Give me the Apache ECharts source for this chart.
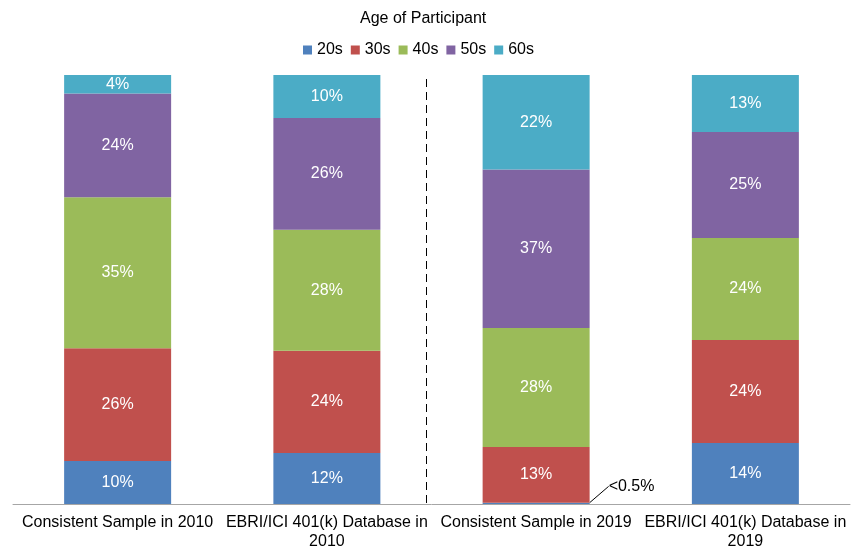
<!DOCTYPE html>
<html>
<head>
<meta charset="utf-8">
<script src="https://cdn.jsdelivr.net/npm/echarts@6/dist/echarts.min.js"></script>
<style>
  html, body { margin: 0; padding: 0; background: #fff; }
  #chart { width: 851px; height: 548px; }
</style>
</head>
<body>
<div id="chart"></div>
<script>
// Share of participants by age group (percent of each sample)
const categories = [
  'Consistent Sample in 2010',
  'EBRI/ICI 401(k) Database in\n2010',
  'Consistent Sample in 2019',
  'EBRI/ICI 401(k) Database in\n2019'
];
const ageGroups = ['20s', '30s', '40s', '50s', '60s'];
const age20s = [10.0, 11.9, 0.3, 14.2];
const age30s = [26.3, 23.8, 13.0, 24.0];
const age40s = [35.2, 28.2, 27.7, 23.8];
const age50s = [24.2, 26.1, 37.0, 24.7];
const age60s = [4.3, 10.0, 22.0, 13.3];
const colors = ['#4F81BD', '#C0504D', '#9BBB59', '#8064A2', '#4BACC6'];

const font = '"Liberation Sans", Arial, sans-serif';
const chart = echarts.init(document.getElementById('chart'));

function makeSeries(name, values, color) {
  return {
    name: name,
    type: 'bar',
    stack: 'age',
    barWidth: 107,
    itemStyle: { color: color },
    label: {
      show: true,
      position: 'inside',
      color: '#fff',
      fontFamily: font,
      fontSize: 16,
      formatter: p => Math.round(p.value) + '%'
    },
    data: values.map(v => {
      if (v < 0.5) {
        // very small share: label placed outside with a leader line
        return {
          value: v,
          label: {
            show: true,
            position: 'right',
            color: '#000',
            formatter: '<0.5%'
          },
          labelLine: { show: true, lineStyle: { color: '#000', width: 1 } }
        };
      }
      return v;
    }),
    labelLayout: function (p) {
      if (values[p.dataIndex] < 0.5) {
        return { dx: 14, dy: -17 };
      }
    },
    labelLine: { show: false }
  };
}

const seriesValues = [age20s, age30s, age40s, age50s, age60s];

chart.setOption({
  animation: false,
  title: {
    text: 'Age of Participant',
    left: 355,
    top: 6,
    textStyle: { fontFamily: font, fontSize: 16, fontWeight: 'normal', color: '#000' }
  },
  legend: {
    data: ageGroups,
    top: 37,
    left: 298,
    itemWidth: 9,
    itemHeight: 9,
    itemGap: 8,
    icon: 'rect',
    textStyle: { fontFamily: font, fontSize: 16, color: '#000' }
  },
  grid: { left: 13, right: 1, top: 75, bottom: 44, containLabel: false, outerBoundsMode: 'none' },
  xAxis: {
    type: 'category',
    data: categories,
    axisLine: { lineStyle: { color: '#A6A6A6', width: 1 } },
    axisTick: { show: false },
    axisLabel: {
      interval: 0,
      color: '#000',
      fontFamily: font,
      fontSize: 16,
      lineHeight: 19,
      margin: 9
    }
  },
  yAxis: {
    type: 'value',
    min: 0,
    max: 100,
    show: false,
    splitLine: { show: false }
  },
  series: ageGroups.map((g, i) => makeSeries(g, seriesValues[i], colors[i]))
});

// Dashed divider separating the 2010 and 2019 groups
function drawDivider() {
  const a = chart.convertToPixel({ xAxisIndex: 0 }, 1);
  const b = chart.convertToPixel({ xAxisIndex: 0 }, 2);
  const x = (a + b) / 2 - 5;
  const yBottom = chart.convertToPixel({ yAxisIndex: 0 }, 0);
  chart.setOption({
    graphic: [{
      type: 'line',
      shape: { x1: x, y1: 79, x2: x, y2: yBottom },
      style: { stroke: '#000', lineWidth: 1, lineDash: [8, 5] },
      silent: true
    }]
  });
}
drawDivider();
</script>
</body>
</html>
